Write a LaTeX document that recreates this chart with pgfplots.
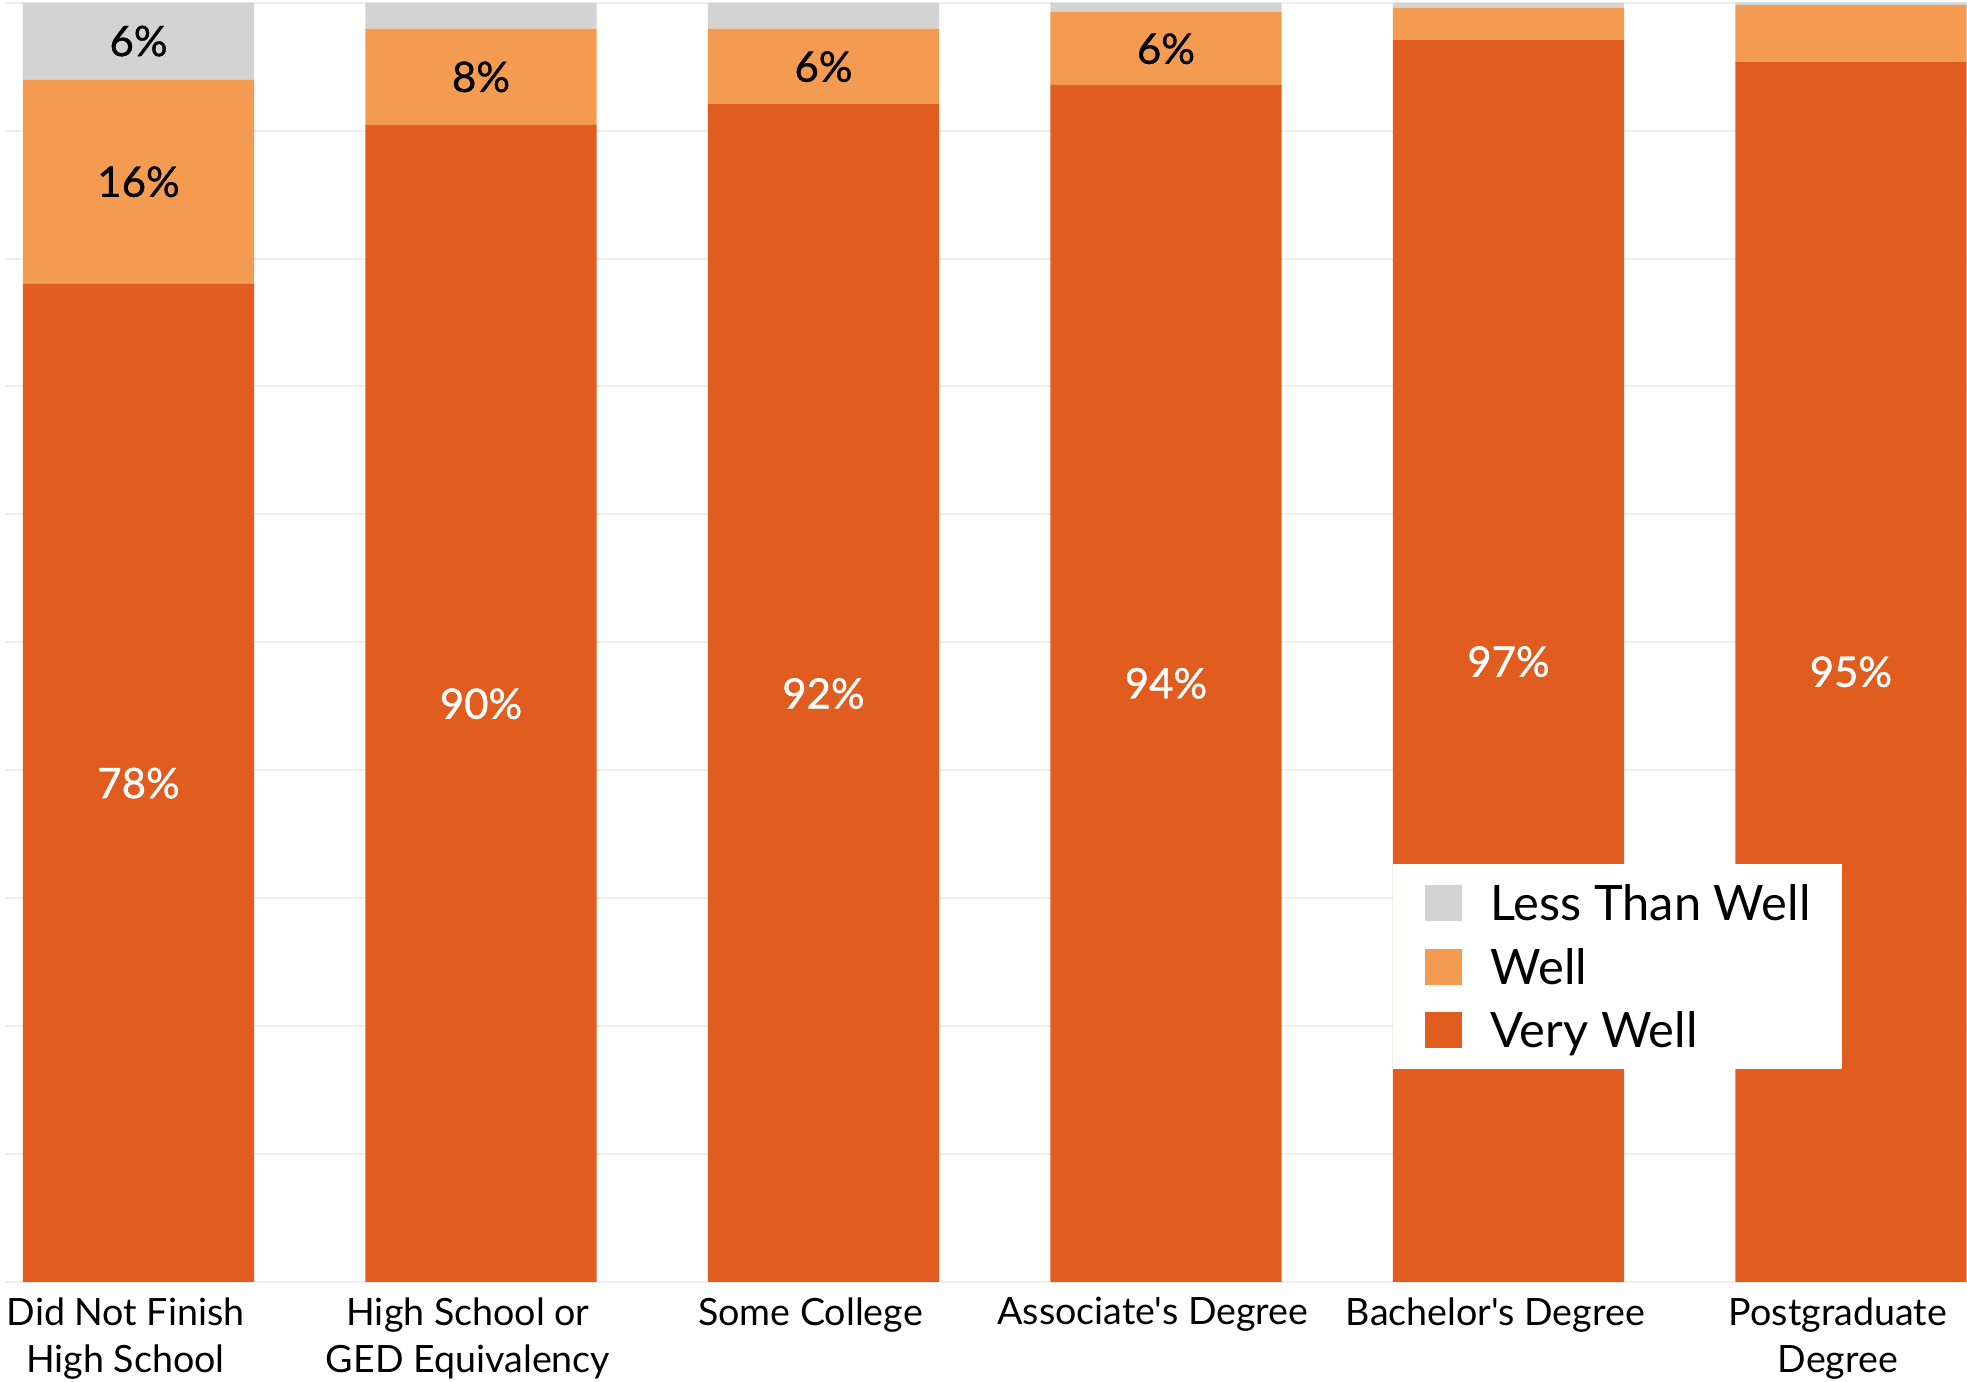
\documentclass[border=0pt]{standalone}
\usepackage{pgfplots}
\pgfplotsset{compat=1.18}
\usepackage{fontspec}
\setmainfont{Lato}
\newfontfamily\latoplain{Lato}
\newfontfamily\latomed[FakeBold=0.9]{Lato}
\definecolor{vwell}{HTML}{E05D1F}
\definecolor{well}{HTML}{F49B52}
\definecolor{lwell}{HTML}{D3D3D3}
\definecolor{gridc}{HTML}{EEEEEE}
\pgfplotsset{
  base/.style={width=980.5pt, height=639.65pt, scale only axis,
    xmin=-0.387, xmax=5.339, ymin=0, ymax=100},
}
\pgfplotstableread{
x vw w lw
0 78.03 15.94 6.03
1 90.44 7.53 2.03
2 92.08 5.89 2.03
3 93.57 5.70 0.73
4 97.08 2.52 0.40
5 95.39 4.41 0.20
}\datatable
\begin{document}
\begin{tikzpicture}
\begin{axis}[base, ybar stacked, bar width=0.675,
  axis line style={draw=none},
  ymajorgrids, major grid style={gridc, line width=1pt},
  ytick={0,10,...,100}, yticklabels={},
  major tick length=0pt,
  xtick={0,1,2,3,4,5},
  xticklabels={Did Not Finish\\High School, High School or\\GED Equivalency, Some College, Associate's Degree, Bachelor's Degree, Postgraduate\\Degree},
  xticklabel style={font=\latoplain\fontsize{18.8}{23.5}\selectfont, align=center, anchor=north, inner sep=0pt, yshift=-7.5pt, xshift=-6.5pt},
  reverse legend,
  legend cell align=left,
  legend image code/.code={\fill[#1] (0pt,-9pt) rectangle (18.5pt,9pt);},
  legend style={at={(0.7073,0.3267)}, anchor=north west, draw=none, fill=white,
    inner xsep=16pt, inner ysep=10.5pt, row sep=13.75pt,
    font=\fontsize{24.4}{30}\selectfont,
    nodes={inner sep=0pt, text height=17.5pt, text depth=0pt},
    /tikz/every odd column/.append style={column sep=14pt}},
]
\addplot[fill=vwell, draw=none] table[x=x, y=vw] {\datatable};
\addlegendentry{Very Well}
\addplot[fill=well, draw=none] table[x=x, y=w] {\datatable};
\addlegendentry{Well}
\addplot[fill=lwell, draw=none] table[x=x, y=lw] {\datatable};
\addlegendentry{Less Than Well}
\coordinate (SW) at (rel axis cs:0,0);
\coordinate (NE) at (rel axis cs:1,1);
\end{axis}
\begin{axis}[base, hide axis, clip=false]
\addplot[draw=none, mark=none, nodes near coords={\pgfplotspointmeta\%}, nodes near coords align=center,
  point meta=explicit symbolic,
  every node near coord/.append style={text=white, font=\latomed\fontsize{21}{25}\selectfont, inner sep=0pt}]
  table[meta=lab] {
x y lab
0 39.0 78
1 45.2 90
2 46.0 92
3 46.8 94
4 48.5 97
5 47.7 95
};
\addplot[draw=none, mark=none, nodes near coords={\pgfplotspointmeta\%}, nodes near coords align=center,
  point meta=explicit symbolic,
  every node near coord/.append style={text=black, font=\latomed\fontsize{21}{25}\selectfont, inner sep=0pt}]
  table[meta=lab] {
x y lab
0 86.0 16
0 97.0 6
1 94.2 8
2 95.0 6
3 96.4 6
};
\end{axis}
\pgfresetboundingbox
\path[use as bounding box] ([xshift=-3pt,yshift=-50pt]SW) rectangle ([yshift=1.35pt]NE);
\end{tikzpicture}
\end{document}
